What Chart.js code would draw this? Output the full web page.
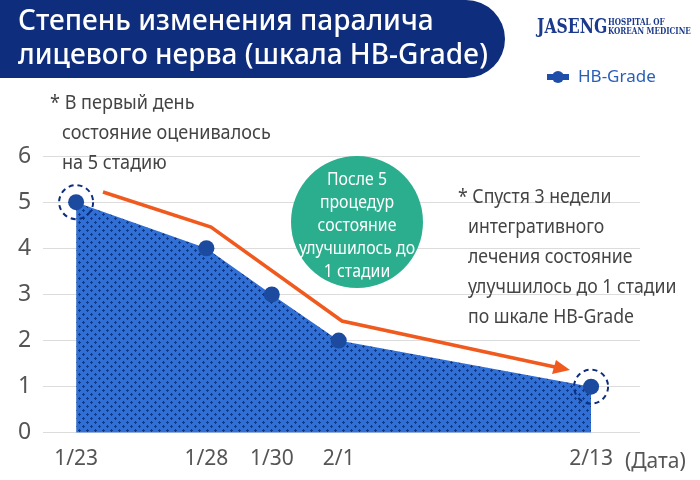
<!DOCTYPE html>
<html><head><meta charset="utf-8">
<script src="https://cdn.jsdelivr.net/npm/chart.js@4"></script>
<style>body{margin:0;background:#fff}canvas{display:block}</style>
</head><body>
<canvas id="c" width="700" height="480"></canvas>
<script>
// data
const dates = ['1/23', '1/28', '1/30', '2/1', '2/13'];
const xPos = [0, 2.53, 3.8, 5.1, 10];   // horizontal placement as in the original
const grade = [5, 4, 3, 2, 1];
const yTicks = [0, 1, 2, 3, 4, 5, 6];

const FONT = '"Noto Sans", sans-serif';

// cross-hatched fill
function makePattern() {
    const p = document.createElement('canvas');
    p.width = 8; p.height = 8;
    const g = p.getContext('2d');
    g.fillStyle = '#2f6fd6';
    g.fillRect(0, 0, 8, 8);
    g.fillStyle = '#0d3a8a';
    g.fillRect(3, 1, 1, 3); g.fillRect(2, 2, 3, 1);
    g.fillRect(7, 5, 1, 3); g.fillRect(6, 6, 3, 1); g.fillRect(0, 6, 1, 1);
    return g.createPattern(p, 'repeat');
}

// narrow text helper
function narrow(c, t, x, y, sx) {
    c.save(); c.translate(x, y); c.scale(sx, 1); c.fillText(t, 0, 0); c.restore();
}

const decor = {
    id: 'decor',
    afterDraw(chart) {
        const c = chart.ctx, xs = chart.scales.x, ys = chart.scales.y;
        const px = i => xs.getPixelForValue(xPos[i]);
        const py = i => ys.getPixelForValue(grade[i]);
        c.save();
        // title pill
        c.fillStyle = '#0e2d7c';
        c.beginPath();
        c.moveTo(0, 0); c.lineTo(466, 0);
        c.arc(466, 39, 39, -Math.PI / 2, Math.PI / 2);
        c.lineTo(0, 78); c.closePath(); c.fill();
        c.fillStyle = '#fff';
        c.font = '500 28px ' + FONT;
        c.textBaseline = 'middle';
        c.fillText('Степень изменения паралича', 18, 22);
        c.fillText('лицевого нерва (шкала HB-Grade)', 18, 56);
        // logo
        c.fillStyle = '#1b3a8c';
        c.font = 'bold 20px "DejaVu Serif", serif';
        narrow(c, 'JASENG', 537, 28, 0.78);
        c.font = 'bold 9px "DejaVu Serif", serif';
        narrow(c, 'HOSPITAL OF', 608, 23, 0.8);
        narrow(c, 'KOREAN MEDICINE', 608, 32, 0.8);
        // legend
        c.fillStyle = '#1e4ea8';
        c.fillRect(547, 74, 22, 6);
        c.beginPath(); c.arc(558, 77, 6, 0, Math.PI * 2); c.fill();
        c.fillStyle = '#2a5fb8';
        c.font = '17px ' + FONT;
        c.fillText('HB-Grade', 578, 77);
        // dashed rings
        c.strokeStyle = '#0e2d7c'; c.lineWidth = 2; c.setLineDash([5, 4]);
        [0, 4].forEach(i => { c.beginPath(); c.arc(px(i), py(i), 17, 0, Math.PI * 2); c.stroke(); });
        c.setLineDash([]);
        // orange trend arrow
        c.strokeStyle = '#f05a1e'; c.lineWidth = 3.5;
        c.beginPath();
        c.moveTo(103, 192); c.lineTo(211, 227); c.lineTo(342, 321); c.lineTo(555, 367);
        c.stroke();
        c.fillStyle = '#f05a1e';
        c.beginPath(); c.moveTo(570, 370); c.lineTo(552, 374); c.lineTo(556, 360); c.closePath(); c.fill();
        // green circle
        c.fillStyle = '#2aae8e';
        c.beginPath(); c.arc(357, 222, 66, 0, Math.PI * 2); c.fill();
        c.fillStyle = '#fff'; c.textAlign = 'center'; c.font = '18px ' + FONT;
        ['После 5', 'процедур', 'состояние', 'улучшилось до', '1 стадии'].forEach((t, i) => narrow(c, t, 357, 180 + i * 23, 0.88));
        // notes
        c.fillStyle = '#444'; c.textAlign = 'left'; c.font = '19px ' + FONT;
        ['* В первый день', 'состояние оценивалось', 'на 5 стадию'].forEach((t, i) => narrow(c, t, i ? 62 : 50, 104 + i * 30, 0.95));
        ['* Спустя 3 недели', 'интегративного', 'лечения состояние', 'улучшилось до 1 стадии', 'по шкале HB-Grade']
            .forEach((t, i) => narrow(c, t, i ? 468 : 458, 198 + i * 30, 0.93));
        // axis unit
        c.font = '21px ' + FONT; c.fillStyle = '#555';
        c.fillText('(Дата)', 625, 462);
        c.restore();
    }
};

new Chart(document.getElementById('c').getContext('2d'), {
    type: 'line',
    data: {
        datasets: [{
            data: xPos.map((x, i) => ({ x: x, y: grade[i] })),
            fill: 'origin',
            backgroundColor: makePattern(),
            borderWidth: 0,
            pointRadius: 8,
            pointBackgroundColor: '#1b4a9e',
            pointBorderWidth: 0,
            tension: 0
        }]
    },
    options: {
        responsive: false,
        animation: false,
        layout: { padding: { left: 6, right: 60, top: 156, bottom: 2 } },
        plugins: { legend: { display: false }, tooltip: { enabled: false } },
        scales: {
            x: {
                type: 'linear', min: -0.64, max: 10.95,
                afterBuildTicks: a => { a.ticks = xPos.map(v => ({ value: v })); },
                ticks: {
                    callback: (v, i) => dates[i],
                    autoSkip: false, maxRotation: 0,
                    color: '#555', font: { family: FONT, size: 21 }, padding: 6
                },
                grid: { display: false },
                border: { display: false }
            },
            y: {
                min: 0, max: 6,
                afterBuildTicks: a => { a.ticks = yTicks.map(v => ({ value: v })); },
                ticks: { color: '#555', font: { family: FONT, size: 23 }, padding: 12 },
                grid: { color: '#dcdcdc', drawTicks: false },
                border: { display: false }
            }
        }
    },
    plugins: [decor]
});
</script>
</body></html>
